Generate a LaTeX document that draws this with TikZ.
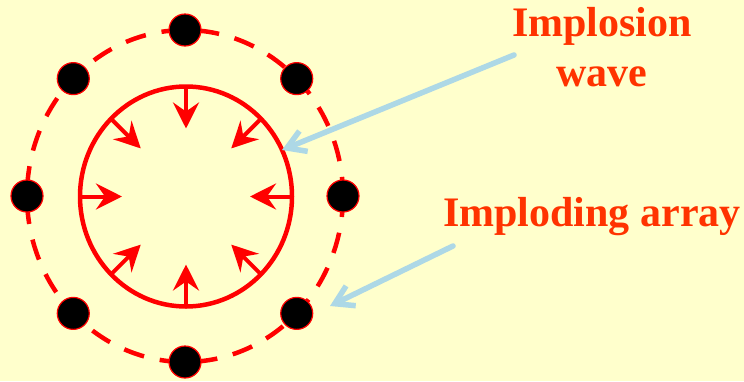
\documentclass[tikz,border=0pt]{standalone}
\usepackage{fontspec}
\setmainfont{Liberation Serif}
\usetikzlibrary{arrows.meta}
\definecolor{paper}{RGB}{255,255,204}
\definecolor{labelred}{RGB}{255,51,0}
\definecolor{paleblue}{RGB}{173,216,230}
\begin{document}
\begin{tikzpicture}[x=1pt, y=-1pt,
  wire/.style={circle, draw=red, fill=black, line width=1.2pt, minimum size=32pt, inner sep=0pt},
  shell/.style={draw=red, line width=4.5pt, dash pattern=on 21pt off 16pt},
  front/.style={draw=red, line width=4.5pt},
  inward/.style={-{Stealth[length=26pt, width=26pt, inset=9pt]}, red, line width=4pt},
  tag/.style={text=labelred, font=\fontsize{42}{50}\selectfont\bfseries, inner sep=0pt, align=center},
  callout/.style={-{Straight Barb[length=18pt, width=22pt]}, paleblue, line width=5.5pt, line cap=round}
]
  \useasboundingbox[fill=paper] (0,0) rectangle (744,381);

  % imploding array
  \draw[shell] (185,196) ellipse [x radius=158, y radius=166];
  \foreach \a in {0,45,...,315}
    \node[wire] (w\a) at ({185+158*cos(\a)},{196+166*sin(\a)}) {};

  % implosion wave
  \draw[front] (186,196.5) ellipse [x radius=106, y radius=110];
  \foreach \a in {0,45,...,315}
    \draw[inward] ({186+106*cos(\a)},{196.5+110*sin(\a)}) -- ({186+64*cos(\a)},{196.5+68*sin(\a)});

  % labels
  \node[tag, anchor=base] (wave) at (602,86.7) {Implosion\\wave};
  \node[tag, anchor=base] (array) at (592,226.7) {Imploding array};

  \coordinate (wavetip) at (282,150);
  \coordinate (arraytip) at (330,306);
  \draw[callout] (514,55) -- (wavetip);
  \draw[callout] (453,246) -- (arraytip);
\end{tikzpicture}
\end{document}
